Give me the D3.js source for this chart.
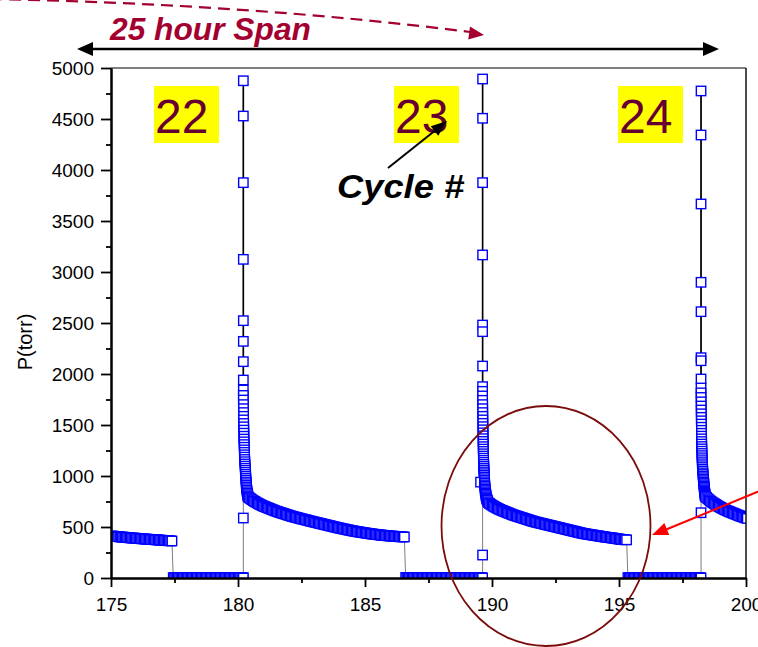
<!DOCTYPE html>
<html><head><meta charset="utf-8">
<script src="https://cdn.jsdelivr.net/npm/d3@7"></script>
<style>body{margin:0;background:#fff}svg{display:block}</style>
</head><body>
<svg id="chart" width="758" height="647"></svg>
<script>
// ---------------- DATA ----------------
const xTicks = [175, 180, 185, 190, 195, 200];
const xMinorTicks = [177.5, 182.5, 187.5, 192.5, 197.5];
const yTicks = [0, 500, 1000, 1500, 2000, 2500, 3000, 3500, 4000, 4500, 5000];
const yMinorTicks = [250, 750, 1250, 1750, 2250, 2750, 3250, 3750, 4250, 4750];
const cycleLabels = ["22", "23", "24"];
const sampleStep = 0.05; // hours between logged readings on the slow parts

const tail21Start = 175.00;
const tail21Pressure = [412,411,410,408,407,406,405,403,402,401,400,399,398,397,395,394,393,392,391,390,
  389,388,387,386,385,384,383,382,381,380,379,378,377,377,376,375,374,373,372,371,
  370,369,368,368,367,366,365,364,363];

const idle1Start = 177.45;
const idle1Pressure = [4,3,4,5,3,4,4,3,5,4, 3,4,4,3,4,5,3,4,3,4, 4,3,5,4,3,4,4,3,4,5,
  3,4,3,4,4,3,5,4,3,4, 4,3,4,3,5,4,3,4,4,3, 4,3,4,5,3,4];

const spike22Time = [180.21,180.21,180.21,180.21,180.21,180.21,180.21,180.21,180.21,180.21,
  180.21,180.21,180.21,180.215,180.215,180.22,180.22,180.22,180.225,180.225,
  180.23,180.23,180.235,180.235,180.24,180.24,180.245,180.25,180.25,180.255,
  180.26,180.265,180.27,180.275,180.28,180.285,180.29,180.295,180.30,180.305,
  180.31,180.315,180.32,180.325,180.33,180.335,180.34,180.35,180.36,180.37,
  180.38,180.39];
const spike22Pressure = [0,588,4875,4529,3876,3124,2523,2320,2121,1941,
  1843,1790,1745,1700,1660,1622,1585,1550,1515,1482,
  1450,1420,1390,1362,1335,1308,1282,1256,1232,1208,
  1185,1162,1140,1118,1097,1076,1056,1036,1016,997,
  978,960,942,925,908,892,876,861,846,832,
  818,805];

const decay22Start = 180.40;
const decay22Pressure = [795,786,777,768,759,751,744,737,730,723,717,711,705,700,695,690,685,680,675,670,
  665,660,655,651,647,643,639,635,631,627,623,619,615,611,607,603,600,597,593,590,
  587,583,580,577,574,571,568,565,561,558,555,552,549,546,543,540,537,534,531,528,
  525,522,519,516,513,510,507,504,501,498,495,492,489,487,484,481,479,476,473,471,
  468,466,463,461,458,456,454,452,450,448,446,444,442,440,438,436,434,433,431,429,
  428,426,425,423,422,420,419,418,416,415,414,413,412,411,410,409,408,407,406,405,
  404,404,403,402];

const idle2Start = 186.60;
const idle2Pressure = [5,4,3,4,4,3,5,4,3,4, 4,3,4,5,3,4,3,4,4,3, 5,4,3,4,4,3,4,5,3,4,
  3,4,4,3,5,4,3,4,4,3, 4,3,5,4,3,4,4,3,4,5, 3,4,3,4,4,3,5,4,3,4, 3];

const spike23Time = [189.63,189.63,189.63,189.63,189.63,189.63,189.63,189.63,189.63,189.63,
  189.63,189.63,189.63,189.635,189.635,189.635,189.64,189.64,189.64,189.645,
  189.645,189.645,189.65,189.65,189.65,189.655,189.655,189.655,189.66,189.66,
  189.66,189.665,189.67,189.67,189.675,189.68,189.68,189.685,189.69,189.69,
  189.695,189.70,189.55,189.70,189.705,189.71,189.71,189.715,189.72,189.725,
  189.73,189.735,189.74,189.75,189.76,189.765,189.775,189.785,189.795,189.81,
  189.83];
const spike23Pressure = [0,225,4892,4507,3876,3167,2480,2415,2078,1876,
  1830,1785,1742,1700,1660,1622,1585,1550,1516,1484,
  1453,1423,1394,1366,1339,1313,1288,1264,1241,1218,
  1196,1175,1154,1134,1114,1095,1076,1058,1040,1023,
  1006,990,940,974,958,943,928,913,899,885,
  871,858,845,832,820,808,796,785,775,765,
  757];

const decay23Start = 189.85;
const decay23Pressure = [740,731,722,714,706,699,692,685,679,673,667,662,657,652,647,642,637,632,627,622,
  617,613,609,605,601,597,593,589,585,581,577,573,569,565,561,557,553,550,547,544,
  541,538,535,532,529,526,523,520,517,514,511,508,505,502,499,496,493,490,487,484,
  481,478,475,472,469,466,463,460,457,454,451,448,445,442,439,436,434,432,430,428,
  426,424,422,420,418,416,414,412,410,408,406,404,402,400,398,396,395,394,392,390,
  388,386,384,382,380,378,377,376,375,374];

const idle3Start = 195.35;
const idle3Pressure = [4,3,5,4,3,4,4,3,4,5, 3,4,3,4,4,3,5,4,3,4, 4,3,4,3,5,4,3,4,4,3,
  4,5,3,4,3,4,4,3,5,4, 3,4,4,3,4,3,5,4,3,4, 4,3,4,5,3,4,3,4];

const spike24Time = [198.23,198.23,198.23,198.23,198.23,198.23,198.23,198.23,198.23,198.23,
  198.23,198.23,198.23,198.235,198.235,198.235,198.24,198.24,198.24,198.245,
  198.245,198.245,198.25,198.25,198.25,198.255,198.255,198.26,198.26,198.265,
  198.265,198.27,198.27,198.275,198.28,198.28,198.285,198.29,198.295,198.30,
  198.305,198.31,198.315,198.32,198.325,198.33,198.335,198.34,198.345,198.35,
  198.355,198.36,198.365,198.37,198.375,198.38,198.385,198.39];
const spike24Pressure = [0,640,4775,4343,3667,2899,2611,2160,2130,1951,
  1863,1815,1770,1727,1686,1647,1610,1575,1541,1509,
  1478,1448,1419,1391,1364,1338,1313,1289,1266,1243,
  1221,1200,1179,1159,1139,1120,1101,1083,1065,1048,
  1031,1015,999,984,969,955,941,927,914,901,
  888,876,864,852,841,830,820,810];

const decay24Start = 198.40;
const decay24Pressure = [800,789,777,766,755,746,738,730,722,714,706,699,692,685,679,673,667,661,655,650,
  645,640,635,630,625,620,615,610,605,601,597,592,588,584];

// ---------------- CHART ----------------
const FONT = "'Liberation Sans', Arial, Helvetica, sans-serif";
const svg = d3.select("#chart");
const plot = {left: 111, right: 746, top: 68, bottom: 578};
const x = d3.scaleLinear().domain([175, 200]).range([plot.left, plot.right]);
const y = d3.scaleLinear().domain([0, 5000]).range([plot.bottom, plot.top]);

function regular(start, values) { return values.map((p, i) => ({t: start + i * sampleStep, p})); }
function paired(times, values) { return values.map((p, i) => ({t: times[i], p})); }

const spikes = [paired(spike22Time, spike22Pressure), paired(spike23Time, spike23Pressure), paired(spike24Time, spike24Pressure)];
const series = [
  regular(tail21Start, tail21Pressure),
  regular(idle1Start, idle1Pressure),
  spikes[0],
  regular(decay22Start, decay22Pressure),
  regular(idle2Start, idle2Pressure),
  spikes[1],
  regular(decay23Start, decay23Pressure),
  regular(idle3Start, idle3Pressure),
  spikes[2],
  regular(decay24Start, decay24Pressure)
].flat();

svg.append("defs").append("clipPath").attr("id", "plotClip")
  .append("rect").attr("x", plot.left).attr("y", plot.top)
  .attr("width", plot.right - plot.left).attr("height", plot.bottom - plot.top);

const line = d3.line().x(d => x(d.t)).y(d => y(d.p));
const g = svg.append("g").attr("clip-path", "url(#plotClip)");
g.append("path").datum(series).attr("d", line)
  .attr("fill", "none").attr("stroke", "#7d7d7d").attr("stroke-width", 1);
spikes.forEach(s => {
  g.append("path").datum(s.slice(2)).attr("d", line)
    .attr("fill", "none").attr("stroke", "#000").attr("stroke-width", 1.6);
});
const S = 9.4;
g.selectAll("rect.pt").data(series).join("rect").attr("class", "pt")
  .attr("x", d => x(d.t) - S / 2).attr("y", d => y(d.p) - S / 2)
  .attr("width", S).attr("height", S)
  .attr("fill", "#fff").attr("stroke", "#0000ff").attr("stroke-width", 1.4);

// frame
svg.append("line").attr("x1", plot.left).attr("x2", plot.right).attr("y1", plot.top).attr("y2", plot.top)
  .attr("stroke", "#000").attr("stroke-width", 1.2);
svg.append("line").attr("x1", plot.right).attr("x2", plot.right).attr("y1", plot.top).attr("y2", plot.bottom)
  .attr("stroke", "#000").attr("stroke-width", 1.4);

// axes
function styleAxis(sel) {
  sel.selectAll("path.domain").attr("stroke", "#000").attr("stroke-width", 2);
  sel.selectAll(".tick line").attr("stroke", "#000").attr("stroke-width", 1.8);
  sel.selectAll("text").attr("font-family", FONT).attr("font-size", 19).attr("fill", "#000");
}
const yAxis = svg.append("g").attr("transform", `translate(${plot.left},0)`)
  .call(d3.axisLeft(y).tickValues(yTicks).tickSize(10).tickSizeOuter(0).tickPadding(7).tickFormat(d3.format("d")));
styleAxis(yAxis);
const yMinor = svg.append("g").attr("transform", `translate(${plot.left},0)`)
  .call(d3.axisLeft(y).tickValues(yMinorTicks).tickSize(5).tickSizeOuter(0).tickFormat(""));
styleAxis(yMinor);
const xAxis = svg.append("g").attr("transform", `translate(0,${plot.bottom})`)
  .call(d3.axisBottom(x).tickValues(xTicks).tickSize(9).tickSizeOuter(0).tickPadding(11).tickFormat(d3.format("d")));
styleAxis(xAxis);
const xMinor = svg.append("g").attr("transform", `translate(0,${plot.bottom})`)
  .call(d3.axisBottom(x).tickValues(xMinorTicks).tickSize(5).tickSizeOuter(0).tickFormat(""));
styleAxis(xMinor);

svg.append("text").attr("transform", "translate(32,342) rotate(-90)")
  .attr("text-anchor", "middle").attr("font-family", FONT).attr("font-size", 20)
  .text("P(torr)");

// ---------------- ANNOTATIONS ----------------
function arrowHead(x1, y1, x2, y2, len, wid, color) {
  const a = Math.atan2(y2 - y1, x2 - x1);
  const bx = x2 - len * Math.cos(a), by = y2 - len * Math.sin(a);
  const px = -Math.sin(a) * wid / 2, py = Math.cos(a) * wid / 2;
  svg.append("polygon")
    .attr("points", `${x2},${y2} ${bx + px},${by + py} ${bx - px},${by - py}`)
    .attr("fill", color);
  return [bx, by];
}

// cycle number boxes
const boxX = [154, 394, 618];
cycleLabels.forEach((lab, i) => {
  svg.append("rect").attr("x", boxX[i]).attr("y", 86).attr("width", 65).attr("height", 57).attr("fill", "#ffff00");
  svg.append("text").attr("x", boxX[i] + 1).attr("y", 133).attr("font-family", FONT)
    .attr("font-size", 48).attr("fill", "#660033").text(lab);
});

// Cycle # arrow
svg.append("line").attr("x1", 388).attr("y1", 168).attr("x2", 437).attr("y2", 129)
  .attr("stroke", "#000").attr("stroke-width", 2);
arrowHead(388, 168, 447, 121, 16, 12, "#000");
svg.append("text").attr("transform", "translate(337,198) scale(1.1,1)").attr("font-family", FONT)
  .attr("font-size", 33).attr("font-weight", "bold").attr("font-style", "italic").text("Cycle #");

// 25 hour span
const spanColor = "#a3002f";
svg.append("text").attr("transform", "translate(110,40) scale(1.04,1)").attr("font-family", FONT)
  .attr("font-size", 30.5).attr("font-weight", "bold").attr("font-style", "italic")
  .attr("fill", spanColor).text("25 hour Span");
svg.append("path").attr("d", "M -10,-1 Q 250,4 470,32")
  .attr("fill", "none").attr("stroke", spanColor).attr("stroke-width", 2.2)
  .attr("stroke-dasharray", "12,7");
arrowHead(250, 4, 484, 35, 15, 13, spanColor);

// double arrow
svg.append("line").attr("x1", 90).attr("x2", 706).attr("y1", 49).attr("y2", 49)
  .attr("stroke", "#000").attr("stroke-width", 2.6);
arrowHead(300, 49, 77, 49, 16, 14, "#000");
arrowHead(500, 49, 719, 49, 16, 14, "#000");

// ellipse
svg.append("ellipse").attr("cx", 546).attr("cy", 526).attr("rx", 104.5).attr("ry", 120)
  .attr("fill", "none").attr("stroke", "#7a0c0c").attr("stroke-width", 1.8);

// red arrow
svg.append("line").attr("x1", 762).attr("y1", 490).attr("x2", 665).attr("y2", 530)
  .attr("stroke", "#ff0000").attr("stroke-width", 2);
arrowHead(762, 490, 652, 535, 16, 13, "#ff0000");
</script>
</body></html>
